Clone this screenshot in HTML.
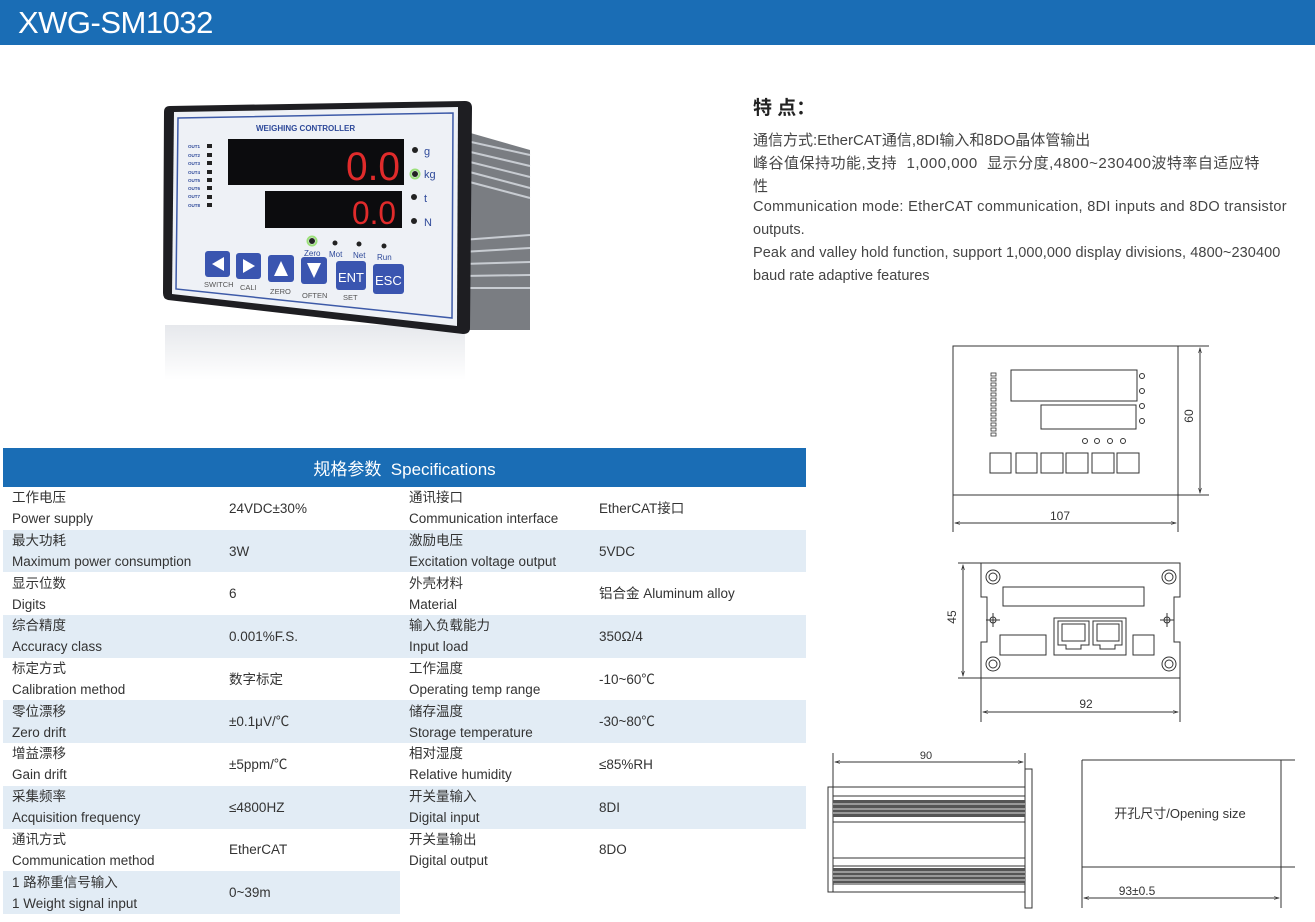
<!DOCTYPE html>
<html><head><meta charset="utf-8"><style>
*{margin:0;padding:0;box-sizing:border-box}
body{width:1315px;height:922px;background:#fff;position:relative;overflow:hidden;font-family:"Liberation Sans","Noto Sans CJK SC",sans-serif;color:#333}
.top{position:absolute;left:0;top:0;width:1315px;height:45px;background:#1a6db5;color:#fff;font-size:31px;line-height:45px;padding-left:18px;letter-spacing:-0.5px}
.ft{position:absolute;left:753px;font-size:15px;color:#444;white-space:nowrap}
table{position:absolute;left:3px;top:448px;width:803px;border-collapse:collapse;font-size:13.5px;color:#333}
th{background:#1a6db5;color:#fff;font-weight:normal;font-size:17px;height:39px}
td{height:42.7px;vertical-align:middle;padding-left:9px;line-height:21px}
tr.s td.c{background:#e2ecf5}
</style></head><body>
<div class="top">XWG-SM1032</div>
<div class="ft" style="top:93px;font-size:19px;font-weight:bold;color:#222">特 点：</div>
<div class="ft" style="top:129px">通信方式:EtherCAT通信,8DI输入和8DO晶体管输出</div>
<div class="ft" style="top:152px;letter-spacing:0.5px">峰谷值保持功能,支持 &nbsp;1,000,000 &nbsp;显示分度,4800~230400波特率自适应特</div>
<div class="ft" style="top:175px">性</div>
<div class="ft" style="top:199px;font-size:14.5px;letter-spacing:0.3px">Communication mode: EtherCAT communication, 8DI inputs and 8DO transistor</div>
<div class="ft" style="top:222px;font-size:14.5px">outputs.</div>
<div class="ft" style="top:245px;font-size:14.5px;letter-spacing:0.1px">Peak and valley hold function, support 1,000,000 display divisions, 4800~230400</div>
<div class="ft" style="top:268px;font-size:14.5px">baud rate adaptive features</div>

<table>
<tr><th colspan="4">规格参数 &nbsp;Specifications</th></tr>
<tr><td class="c" style="width:217px">工作电压<br>Power supply</td><td class="c" style="width:180px">24VDC±30%</td><td class="c" style="width:190px">通讯接口<br>Communication interface</td><td class="c">EtherCAT接口</td></tr>
<tr class="s"><td class="c">最大功耗<br>Maximum power consumption</td><td class="c">3W</td><td class="c">激励电压<br>Excitation voltage output</td><td class="c">5VDC</td></tr>
<tr><td class="c">显示位数<br>Digits</td><td class="c">6</td><td class="c">外壳材料<br>Material</td><td class="c">铝合金 Aluminum alloy</td></tr>
<tr class="s"><td class="c">综合精度<br>Accuracy class</td><td class="c">0.001%F.S.</td><td class="c">输入负载能力<br>Input load</td><td class="c">350Ω/4</td></tr>
<tr><td class="c">标定方式<br>Calibration method</td><td class="c">数字标定</td><td class="c">工作温度<br>Operating temp range</td><td class="c">-10~60℃</td></tr>
<tr class="s"><td class="c">零位漂移<br>Zero drift</td><td class="c">±0.1μV/℃</td><td class="c">储存温度<br>Storage temperature</td><td class="c">-30~80℃</td></tr>
<tr><td class="c">增益漂移<br>Gain drift</td><td class="c">±5ppm/℃</td><td class="c">相对湿度<br>Relative humidity</td><td class="c">≤85%RH</td></tr>
<tr class="s"><td class="c">采集频率<br>Acquisition frequency</td><td class="c">≤4800HZ</td><td class="c">开关量输入<br>Digital input</td><td class="c">8DI</td></tr>
<tr><td class="c">通讯方式<br>Communication method</td><td class="c">EtherCAT</td><td class="c">开关量输出<br>Digital output</td><td class="c">8DO</td></tr>
<tr class="s"><td class="c">1 路称重信号输入<br>1 Weight signal input</td><td class="c">0~39m</td><td></td><td></td></tr>
</table>

<svg width="1315" height="922" style="position:absolute;left:0;top:0" font-family="Liberation Sans, Noto Sans CJK SC, sans-serif">
<defs>
<linearGradient id="ref" x1="0" y1="0" x2="0" y2="1"><stop offset="0" stop-color="#e6e8ec"/><stop offset="1" stop-color="#fff"/></linearGradient>
<marker id="a" viewBox="0 0 10 10" refX="10" refY="5" markerWidth="7" markerHeight="5" orient="auto-start-reverse"><path d="M0,2 L10,5 L0,8" fill="none" stroke="#333" stroke-width="1.2"/></marker>
</defs>
<!-- device photo -->
<rect x="165" y="325" width="300" height="55" fill="url(#ref)"/>
<polygon points="460,130 530,150 530,330 460,330" fill="#7a7d82"/>
<g stroke="#c8ccd2" stroke-width="2">
<line x1="462" y1="140" x2="530" y2="155"/><line x1="462" y1="150" x2="530" y2="166"/><line x1="462" y1="160" x2="530" y2="177"/><line x1="462" y1="170" x2="530" y2="188"/><line x1="462" y1="180" x2="530" y2="198"/>
<line x1="462" y1="240" x2="530" y2="235"/><line x1="462" y1="252" x2="530" y2="248"/><line x1="462" y1="264" x2="530" y2="262"/><line x1="462" y1="276" x2="530" y2="275"/><line x1="462" y1="288" x2="530" y2="288"/>
</g>
<path d="M170,106 L465,101 Q472,101 472,108 L470,328 Q470,334 463,334 L168,300 Q163,299 163,293 L164,112 Q164,106 170,106Z" fill="#1e1e22"/>
<path d="M174,112 L458,107 L457,326 L172,294Z" fill="#eef1f6"/>
<path d="M178,118 L453,113 L452,318 L176,289Z" fill="none" stroke="#3d5aa8" stroke-width="1.5"/>
<text x="256" y="131" font-size="8" font-weight="bold" fill="#2f4a9a">WEIGHING CONTROLLER</text>
<g font-size="4.5" font-weight="bold" fill="#2f4a9a">
<text x="188" y="148">OUT1</text><text x="188" y="157">OUT2</text><text x="188" y="165">OUT3</text><text x="188" y="174">OUT4</text><text x="188" y="182">OUT5</text><text x="188" y="190">OUT6</text><text x="188" y="198">OUT7</text><text x="188" y="207">OUT8</text></g>
<g fill="#222"><rect x="207" y="144" width="5" height="4"/><rect x="207" y="153" width="5" height="4"/><rect x="207" y="161" width="5" height="4"/><rect x="207" y="170" width="5" height="4"/><rect x="207" y="178" width="5" height="4"/><rect x="207" y="186" width="5" height="4"/><rect x="207" y="195" width="5" height="4"/><rect x="207" y="203" width="5" height="4"/></g>
<rect x="228" y="139" width="176" height="46" fill="#0c0c0e"/>
<rect x="265" y="191" width="137" height="37" fill="#0c0c0e"/>
<text x="346" y="180" font-size="40" fill="#e02b2b" font-family="Liberation Sans" transform="scale(1,1)" textLength="54" lengthAdjust="spacingAndGlyphs">0.0</text>
<text x="352" y="224" font-size="32" fill="#e02b2b" font-family="Liberation Sans" textLength="44" lengthAdjust="spacingAndGlyphs">0.0</text>
<g fill="#222"><circle cx="415" cy="150" r="3"/><circle cx="415" cy="174" r="3"/><circle cx="414" cy="197" r="3"/><circle cx="414" cy="221" r="3"/><circle cx="312" cy="241" r="3"/><circle cx="335" cy="243" r="2.5"/><circle cx="359" cy="244" r="2.5"/><circle cx="384" cy="246" r="2.5"/></g>
<circle cx="415" cy="174" r="4.5" fill="none" stroke="#9be07a" stroke-width="2"/>
<circle cx="312" cy="241" r="4.5" fill="none" stroke="#9be07a" stroke-width="2"/>
<g fill="#2f4a9a" font-size="11"><text x="424" y="155">g</text><text x="424" y="178">kg</text><text x="424" y="202">t</text><text x="424" y="226">N</text></g>
<g fill="#2f4a9a" font-size="8"><text x="304" y="256">Zero</text><text x="329" y="257">Mot</text><text x="353" y="258">Net</text><text x="377" y="260">Run</text></g>
<g fill="#3a55b0"><rect x="205" y="251" width="25" height="26" rx="3"/><rect x="236" y="253" width="25" height="26" rx="3"/><rect x="268" y="255" width="26" height="27" rx="3"/><rect x="301" y="257" width="26" height="27" rx="3"/><rect x="336" y="261" width="30" height="29" rx="3"/><rect x="373" y="264" width="31" height="30" rx="3"/></g>
<g fill="#fff"><polygon points="224,257 224,271 212,264"/><polygon points="243,259 243,273 255,266"/><polygon points="281,261 274,276 288,276"/><polygon points="307,263 321,263 314,278"/></g>
<text x="338" y="282" font-size="13" fill="#fff">ENT</text><text x="375" y="285" font-size="13" fill="#fff">ESC</text>
<g fill="#555" font-size="7.5"><text x="204" y="287">SWITCH</text><text x="240" y="290">CALI</text><text x="270" y="294">ZERO</text><text x="302" y="298">OFTEN</text><text x="343" y="300">SET</text></g>

<g fill="none" stroke="#333" stroke-width="1">
<rect x="953" y="346" width="225" height="149"/>
<line x1="1178" y1="346" x2="1209" y2="346"/><line x1="1178" y1="495" x2="1209" y2="495"/>
<line x1="1200" y1="348" x2="1200" y2="493" marker-start="url(#a)" marker-end="url(#a)"/>
<line x1="953" y1="495" x2="953" y2="532"/><line x1="1178" y1="495" x2="1178" y2="532"/>
<line x1="955" y1="523" x2="1176" y2="523" marker-start="url(#a)" marker-end="url(#a)"/>
<rect x="1011" y="370" width="126" height="31"/><rect x="1041" y="405" width="95" height="24"/>
<circle cx="1142" cy="376" r="2.5"/><circle cx="1142" cy="391" r="2.5"/><circle cx="1142" cy="406" r="2.5"/><circle cx="1142" cy="421" r="2.5"/>
<circle cx="1085" cy="441" r="2.5"/><circle cx="1097" cy="441" r="2.5"/><circle cx="1110" cy="441" r="2.5"/><circle cx="1123" cy="441" r="2.5"/>
<rect x="990" y="453" width="21" height="20"/><rect x="1016" y="453" width="21" height="20"/><rect x="1041" y="453" width="22" height="20"/><rect x="1066" y="453" width="22" height="20"/><rect x="1092" y="453" width="22" height="20"/><rect x="1117" y="453" width="22" height="20"/>
<g stroke-width="0.8"><rect x="991" y="373" width="5" height="3"/><rect x="991" y="378" width="5" height="3"/><rect x="991" y="383" width="5" height="3"/><rect x="991" y="388" width="5" height="3"/><rect x="991" y="393" width="5" height="3"/><rect x="991" y="398" width="5" height="3"/><rect x="991" y="403" width="5" height="3"/><rect x="991" y="408" width="5" height="3"/><rect x="991" y="413" width="5" height="3"/><rect x="991" y="418" width="5" height="3"/><rect x="991" y="423" width="5" height="3"/><rect x="991" y="428" width="5" height="3"/><rect x="991" y="433" width="5" height="3"/></g>
<path d="M981,563 L1180,563 L1180,597 L1174,597 L1174,642 L1180,642 L1180,678 L981,678 L981,642 L987,642 L987,597 L981,597Z"/>
<circle cx="993" cy="577" r="7"/><circle cx="993" cy="577" r="4"/><circle cx="1169" cy="577" r="7"/><circle cx="1169" cy="577" r="4"/>
<circle cx="993" cy="664" r="7"/><circle cx="993" cy="664" r="4"/><circle cx="1169" cy="664" r="7"/><circle cx="1169" cy="664" r="4"/>
<rect x="1003" y="587" width="141" height="19"/><rect x="1000" y="635" width="46" height="20"/><rect x="1054" y="618" width="72" height="37"/><rect x="1133" y="635" width="21" height="20"/>
<path d="M1058,621 L1089,621 L1089,645 L1081,645 L1081,649 L1066,649 L1066,645 L1058,645Z"/><path d="M1062,624 L1085,624 L1085,641 L1062,641Z"/>
<path d="M1093,621 L1122,621 L1122,645 L1115,645 L1115,649 L1100,649 L1100,645 L1093,645Z"/><path d="M1097,624 L1119,624 L1119,641 L1097,641Z"/>
<circle cx="993" cy="620" r="3"/><line x1="986" y1="620" x2="1000" y2="620"/><line x1="993" y1="613" x2="993" y2="627"/>
<circle cx="1167" cy="620" r="3"/><line x1="1160" y1="620" x2="1174" y2="620"/><line x1="1167" y1="613" x2="1167" y2="627"/>
<line x1="958" y1="563" x2="981" y2="563"/><line x1="958" y1="678" x2="981" y2="678"/>
<line x1="963" y1="565" x2="963" y2="676" marker-start="url(#a)" marker-end="url(#a)"/>
<line x1="981" y1="678" x2="981" y2="722"/><line x1="1180" y1="678" x2="1180" y2="722"/>
<line x1="983" y1="712" x2="1178" y2="712" marker-start="url(#a)" marker-end="url(#a)"/>
<line x1="833" y1="753" x2="833" y2="787"/><line x1="1025" y1="753" x2="1025" y2="769"/>
<line x1="835" y1="762" x2="1023" y2="762" marker-start="url(#a)" marker-end="url(#a)"/>
<rect x="833" y="787" width="192" height="105"/><rect x="828" y="787" width="5" height="105"/><rect x="1025" y="769" width="7" height="139"/>
<line x1="833" y1="796" x2="1025" y2="796"/><line x1="833" y1="822" x2="1025" y2="822"/><line x1="833" y1="858" x2="1025" y2="858"/><line x1="833" y1="866" x2="1025" y2="866"/><line x1="833" y1="884" x2="1025" y2="884"/>
<line x1="1082" y1="760" x2="1295" y2="760"/><line x1="1082" y1="867" x2="1295" y2="867"/>
<line x1="1082" y1="760" x2="1082" y2="908"/><line x1="1281" y1="760" x2="1281" y2="908"/>
<line x1="1084" y1="898" x2="1279" y2="898" marker-start="url(#a)" marker-end="url(#a)"/>
</g>
<rect x="833" y="800" width="192" height="17" fill="#555"/>
<rect x="833" y="868" width="192" height="15" fill="#555"/>
<g stroke="#ddd" stroke-width="1"><line x1="833" y1="804" x2="1025" y2="804"/><line x1="833" y1="809" x2="1025" y2="809"/><line x1="833" y1="813" x2="1025" y2="813"/><line x1="833" y1="872" x2="1025" y2="872"/><line x1="833" y1="876" x2="1025" y2="876"/><line x1="833" y1="880" x2="1025" y2="880"/></g>
<g fill="#333" font-size="12">
<text x="1060" y="520" text-anchor="middle">107</text>
<text x="1197" y="420" text-anchor="middle" transform="rotate(-90 1193 420)">60</text>
<text x="1086" y="708" text-anchor="middle">92</text>
<text x="960" y="621" text-anchor="middle" transform="rotate(-90 956 621)">45</text>
<text x="926" y="759" text-anchor="middle" font-size="11">90</text>
<text x="1137" y="895" text-anchor="middle">93±0.5</text>
<text x="1180" y="818" text-anchor="middle" font-size="13">开孔尺寸/Opening size</text>
</g>
</svg>
</body></html>
